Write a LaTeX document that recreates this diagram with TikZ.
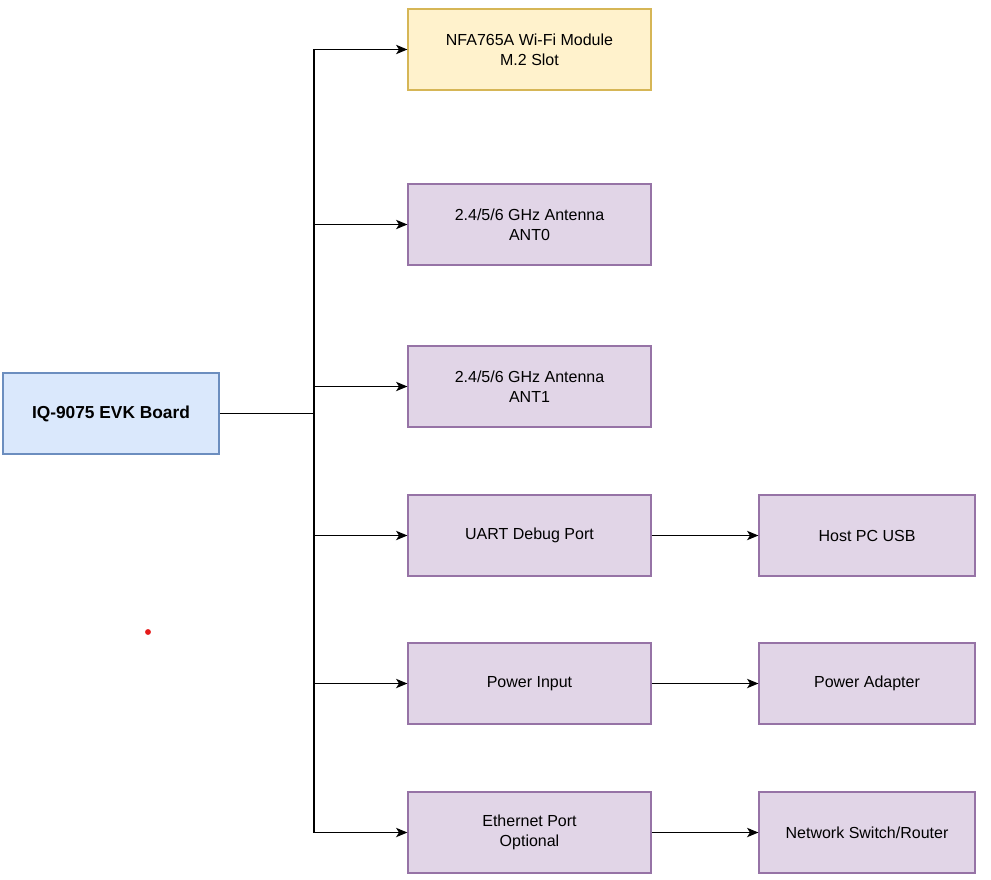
\documentclass[tikz,border=0pt]{standalone}
\usepackage{fontspec}
\setmainfont{Liberation Sans}
\usetikzlibrary{arrows.meta}
\definecolor{boardfill}{HTML}{DAE8FC}
\definecolor{boarddraw}{HTML}{6C8EBF}
\definecolor{modfill}{HTML}{FFF2CC}
\definecolor{moddraw}{HTML}{D6B656}
\definecolor{portfill}{HTML}{E1D5E7}
\definecolor{portdraw}{HTML}{9673A6}
\definecolor{dotred}{HTML}{E51A1A}

\begin{document}
\begin{tikzpicture}[
    x=0.75pt, y=-0.75pt,          % one unit is one pixel of the drawing
    box/.style={
        draw,
        line width=0.9pt,
        minimum width=182.25pt,   % 243 px wide
        minimum height=60.75pt,   % 81 px high
        align=center,
        font=\fontsize{12}{15}\selectfont,
        inner sep=2pt
    },
    boardbox/.style={box, fill=boardfill, draw=boarddraw,
        minimum width=162pt, font=\fontsize{13}{16}\selectfont\bfseries},
    modbox/.style={box, fill=modfill, draw=moddraw},
    portbox/.style={box, fill=portfill, draw=portdraw},
    hostbox/.style={portbox, minimum width=162pt},
    link/.style={line width=0.9pt, -{Stealth[length=8.5pt,width=7pt,inset=2.2pt]}}
]
\useasboundingbox (0,0) rectangle (991,879);

% board and its modules
\node[boardbox] (board) at (111,413.5) {IQ-9075 EVK Board};
\node[modbox]  (wifi) at (529.5,49.5)  {NFA765A Wi-Fi Module\\M.2 Slot};
\node[portbox] (ant0) at (529.5,224.5) {2.4/5/6 GHz Antenna\\ANT0};
\node[portbox] (ant1) at (529.5,386.5) {2.4/5/6 GHz Antenna\\ANT1};
\node[portbox] (uart) at (529.5,535.5) {UART Debug Port};
\node[portbox] (pwr)  at (529.5,683.5) {Power Input};
\node[portbox] (eth)  at (529.5,832.5) {Ethernet Port\\Optional};

% outside equipment
\node[hostbox] (host)    at (867,535.5) {Host PC USB};
\node[hostbox] (adapter) at (867,683.5) {Power Adapter};
\node[hostbox] (switch)  at (867,832.5) {Network Switch/Router};

% bus from the board
\coordinate (bus) at (314,413.5);
\draw[line width=0.9pt] (board.east) -- (bus);
\foreach \m in {wifi,ant0,ant1,uart,pwr,eth}
    \draw[link] (bus) |- (\m.west);

\draw[link] (uart.east) -- (host.west);
\draw[link] (pwr.east) -- (adapter.west);
\draw[link] (eth.east) -- (switch.west);

\fill[dotred] (148,632) circle[radius=2.2pt];
\end{tikzpicture}
\end{document}
